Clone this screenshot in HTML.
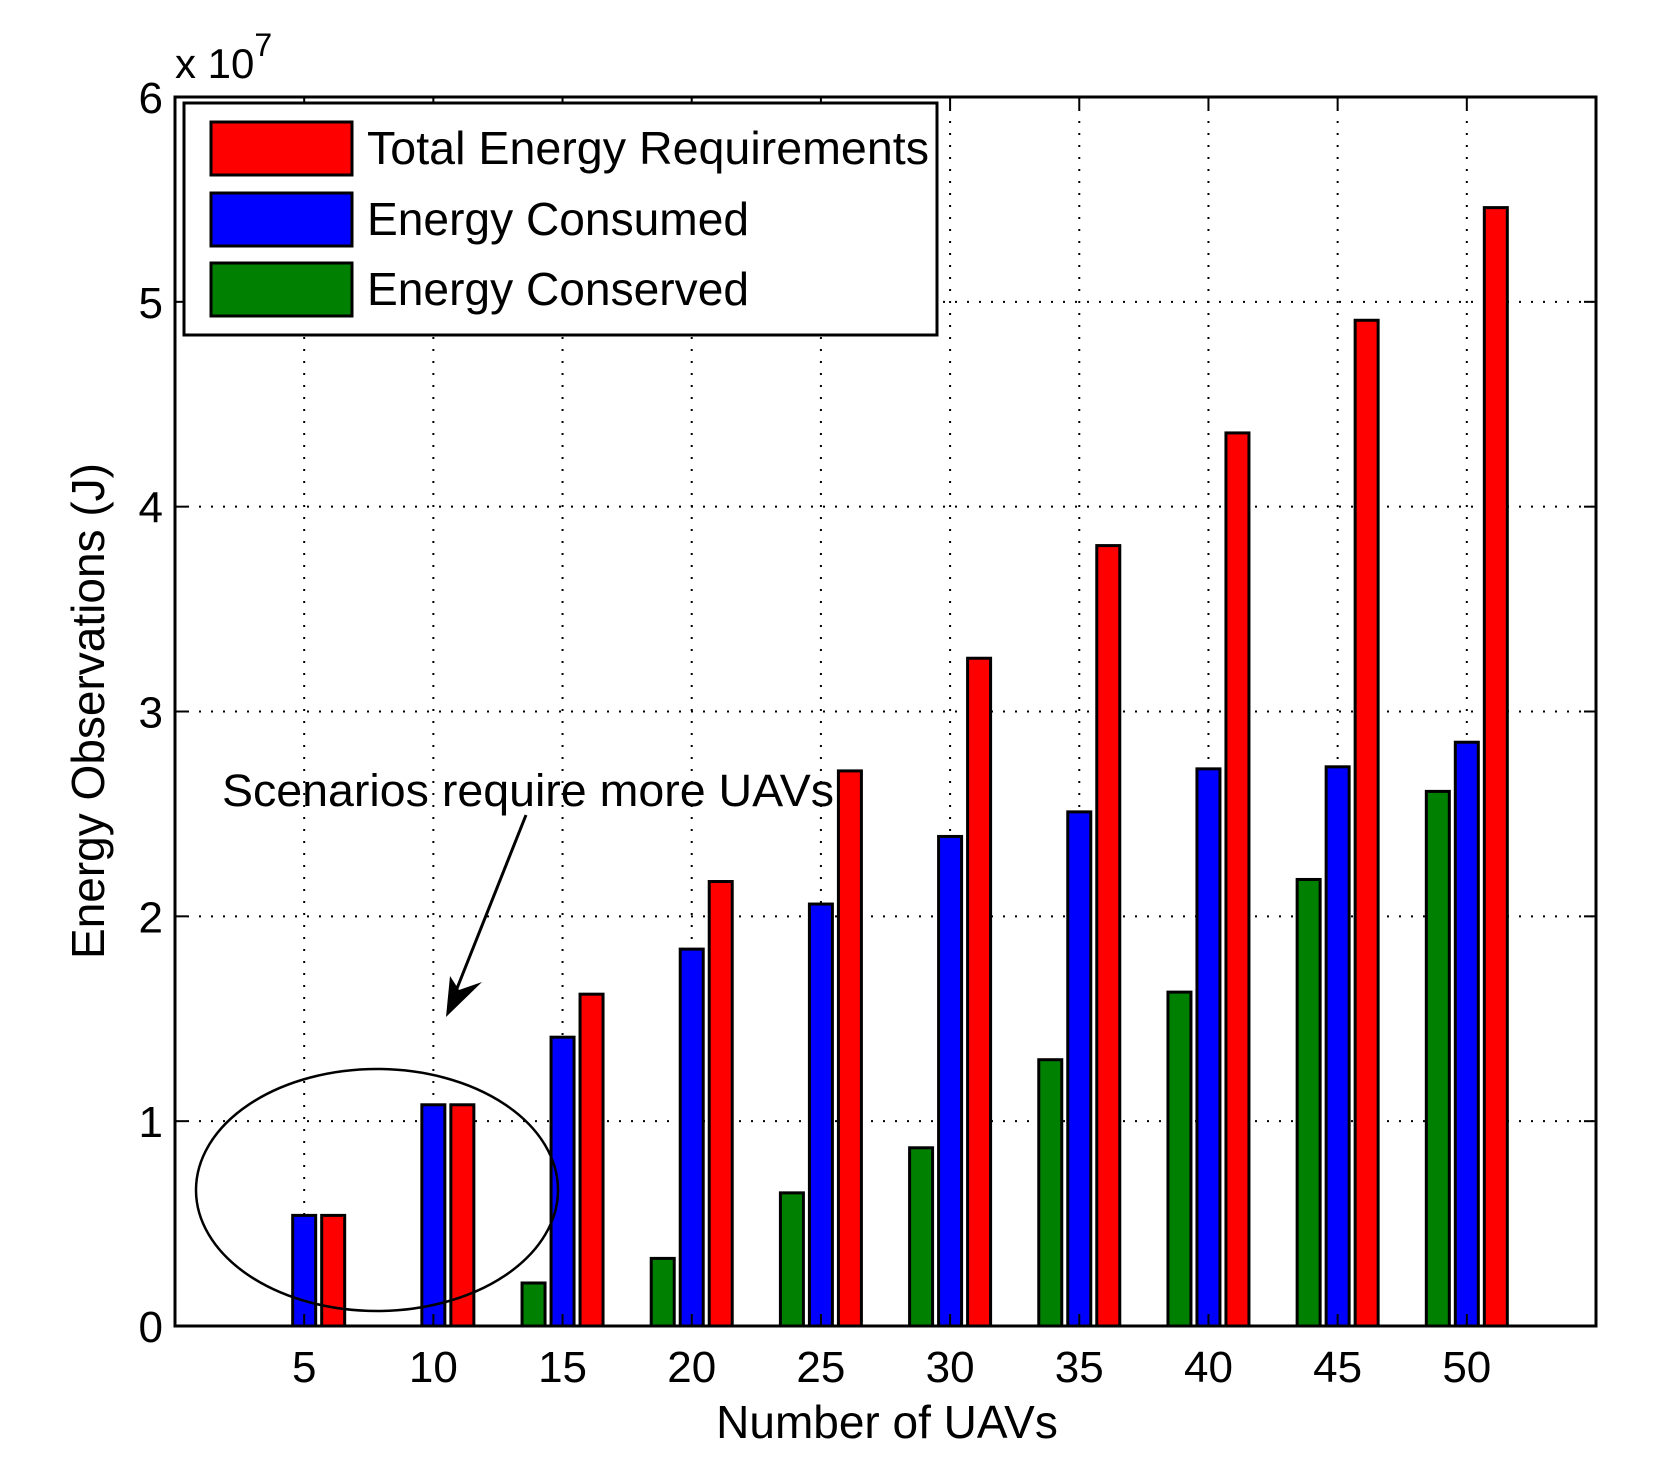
<!DOCTYPE html>
<html><head><meta charset="utf-8"><style>
body{margin:0;background:#fff}
svg{display:block;font-family:"Liberation Sans",sans-serif}
</style></head><body>
<svg id="c" width="1659" height="1484" viewBox="0 0 1659 1484"></svg>
<script>
const categories=[5,10,15,20,25,30,35,40,45,50];
const totalReq=[0.54,1.08,1.62,2.17,2.71,3.26,3.81,4.36,4.91,5.46];
const consumed=[0.54,1.08,1.41,1.84,2.06,2.39,2.51,2.72,2.73,2.85];
const conserved=[0,0,0.21,0.33,0.65,0.87,1.30,1.63,2.18,2.61];
const yTicks=[0,1,2,3,4,5,6];
const svg=document.getElementById('c');
const NS='http://www.w3.org/2000/svg';
const L=175,R=1596,T=97,B=1326;
const xs=i=>L+(R-L)*(i+1)/11;
const ys=v=>B-(B-T)*v/6;
function mk(tag,attrs,parent){const e=document.createElementNS(NS,tag);for(const k in attrs)e.setAttribute(k,attrs[k]);(parent||svg).appendChild(e);return e;}
categories.forEach((c,i)=>{const l=mk('line',{x1:xs(i),x2:xs(i),y1:T,y2:B,stroke:'#000','stroke-width':2,'stroke-dasharray':'2 10'});

});
yTicks.forEach(v=>{if(v>0&&v<6){const l=mk('line',{x1:L,x2:R,y1:ys(v),y2:ys(v),stroke:'#000','stroke-width':2,'stroke-dasharray':'2 10'});

}});
const bw=23,off=29;
const series=[[conserved,'#008000',-1,'conserved'],[consumed,'#0000ff',0,'consumed'],[totalReq,'#ff0000',1,'total-requirement']];
series.forEach(([arr,col,o,nm])=>{arr.forEach((v,i)=>{if(v<=0)return;const x=xs(i)+o*off-bw/2;
const r=mk('rect',{x:x,y:ys(v),width:bw,height:B-ys(v),fill:col,stroke:'#000','stroke-width':3});

});});
const box=mk('rect',{x:L,y:T,width:R-L,height:B-T,fill:'none',stroke:'#000','stroke-width':3});


categories.forEach((c,i)=>{mk('line',{x1:xs(i),x2:xs(i),y1:B,y2:B-12,stroke:'#000','stroke-width':2});mk('line',{x1:xs(i),x2:xs(i),y1:T,y2:T+12,stroke:'#000','stroke-width':2});
const t=mk('text',{x:xs(i),y:B+56,'font-size':44,'text-anchor':'middle'});t.textContent=c;

});
yTicks.forEach(v=>{mk('line',{x1:L,x2:L+12,y1:ys(v),y2:ys(v),stroke:'#000','stroke-width':2});mk('line',{x1:R,x2:R-12,y1:ys(v),y2:ys(v),stroke:'#000','stroke-width':2});
const t=mk('text',{x:L-12,y:ys(v)+16,'font-size':44,'text-anchor':'end'});t.textContent=v;

});
</script>
<script>
(function(){
const svg=document.getElementById('c');const NS='http://www.w3.org/2000/svg';
function mk(tag,attrs){const e=document.createElementNS(NS,tag);for(const k in attrs)e.setAttribute(k,attrs[k]);svg.appendChild(e);return e;}
const lg=mk('rect',{x:184,y:103,width:753,height:232,fill:'#fff',stroke:'#000','stroke-width':3});


const items=[['Total Energy Requirements','#ff0000',122,562],['Energy Consumed','#0000ff',193,382],['Energy Conserved','#008000',263,382]];
items.forEach(([t,c,y,w])=>{const r=mk('rect',{x:211,y:y,width:141,height:53,fill:c,stroke:'#000','stroke-width':3});


const tx=mk('text',{x:367,y:y+42,'font-size':46,textLength:w,lengthAdjust:'spacingAndGlyphs'});tx.textContent=t;

});
const ex=mk('text',{x:175,y:78,'font-size':42});ex.innerHTML='x 10<tspan dy="-22" font-size="32">7</tspan>';


const yt=mk('text',{x:0,y:0,'font-size':46,'text-anchor':'middle',transform:'translate(104,711) rotate(-90)'});yt.textContent='Energy Observations (J)';


const xt=mk('text',{x:887,y:1438,'font-size':46,'text-anchor':'middle'});xt.textContent='Number of UAVs';


const an=mk('text',{x:222,y:806,'font-size':45,textLength:612,lengthAdjust:'spacingAndGlyphs'});an.textContent='Scenarios require more UAVs';


const ar=mk('line',{x1:526,y1:815,x2:450,y2:1006,stroke:'#000','stroke-width':3});


const ah=mk('polygon',{points:'446,1017 450,976 459,990 482,982',fill:'#000'});


const el=mk('ellipse',{cx:377,cy:1190,rx:181,ry:121,fill:'none',stroke:'#000','stroke-width':2.5});


})();
</script>
</body></html>
